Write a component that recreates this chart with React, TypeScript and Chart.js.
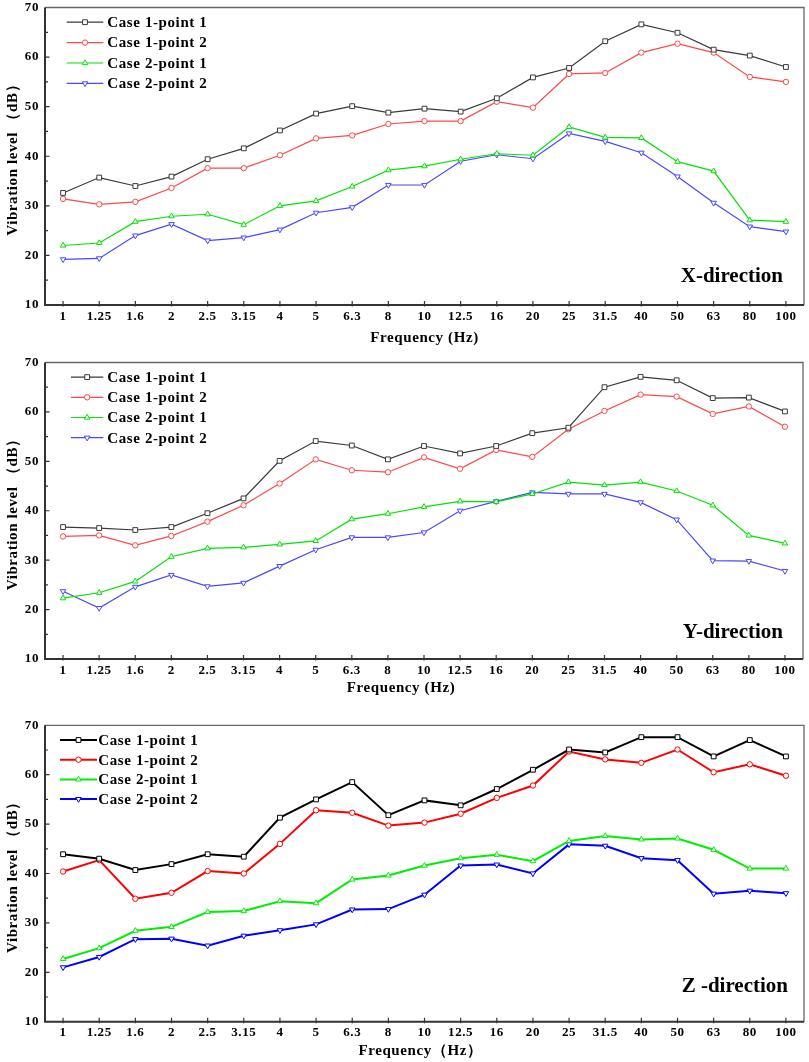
import React, { useEffect, useRef } from 'react';
import { Chart, registerables } from 'chart.js';

Chart.register(...registerables);

const FONT = '"Liberation Serif", "Times New Roman", Times, serif';

// ---------- data ----------
const frequencies = ['1', '1.25', '1.6', '2', '2.5', '3.15', '4', '5', '6.3', '8', '10', '12.5', '16', '20', '25', '31.5', '40', '50', '63', '80', '100'];
const seriesNames = ['Case 1-point 1', 'Case 1-point 2', 'Case 2-point 1', 'Case 2-point 2'];
const yTickValues = [10, 20, 30, 40, 50, 60, 70];

const xCase1P1 = [32.6, 35.7, 34.0, 35.9, 39.4, 41.6, 45.2, 48.6, 50.1, 48.8, 49.6, 49.0, 51.7, 55.9, 57.8, 63.2, 66.6, 64.9, 61.5, 60.3, 58.0];
const xCase1P2 = [31.4, 30.3, 30.8, 33.6, 37.6, 37.6, 40.2, 43.6, 44.2, 46.5, 47.1, 47.1, 51.0, 49.8, 56.6, 56.8, 60.9, 62.7, 60.9, 56.0, 55.0];
const xCase2P1 = [22.0, 22.5, 26.8, 27.9, 28.3, 26.2, 30.0, 31.0, 33.9, 37.2, 38.0, 39.4, 40.5, 40.2, 45.9, 43.8, 43.7, 38.9, 37.0, 27.1, 26.8];
const xCase2P2 = [19.2, 19.4, 24.0, 26.3, 23.0, 23.6, 25.2, 28.6, 29.7, 34.2, 34.2, 39.0, 40.3, 39.5, 44.6, 43.0, 40.7, 35.9, 30.6, 25.8, 24.8];

const yCase1P1 = [36.7, 36.5, 36.1, 36.7, 39.5, 42.5, 50.1, 54.1, 53.2, 50.4, 53.1, 51.6, 53.1, 55.7, 56.8, 65.0, 67.1, 66.4, 62.8, 62.9, 60.1];
const yCase1P2 = [34.8, 35.0, 33.0, 34.9, 37.8, 41.1, 45.5, 50.4, 48.2, 47.8, 50.8, 48.5, 52.3, 50.9, 56.5, 60.2, 63.5, 63.1, 59.6, 61.1, 57.0];
const yCase2P1 = [22.3, 23.4, 25.7, 30.7, 32.4, 32.6, 33.2, 33.9, 38.3, 39.4, 40.8, 41.9, 41.8, 43.4, 45.8, 45.2, 45.8, 44.0, 41.1, 35.0, 33.4];
const yCase2P2 = [23.7, 20.3, 24.6, 27.0, 24.7, 25.4, 28.8, 32.1, 34.6, 34.6, 35.6, 40.0, 41.9, 43.7, 43.4, 43.4, 41.7, 38.2, 29.9, 29.8, 27.8];

const zCase1P1 = [43.9, 43.0, 40.7, 41.9, 43.9, 43.4, 51.3, 55.0, 58.5, 51.8, 54.8, 53.8, 57.1, 61.0, 65.1, 64.5, 67.6, 67.6, 63.7, 67.0, 63.7];
const zCase1P2 = [40.4, 42.7, 34.9, 36.1, 40.5, 40.0, 46.0, 52.8, 52.3, 49.7, 50.3, 52.1, 55.3, 57.8, 64.7, 63.1, 62.4, 65.1, 60.5, 62.1, 59.8];
const zCase2P1 = [22.7, 24.9, 28.4, 29.2, 32.2, 32.4, 34.4, 34.0, 38.8, 39.6, 41.6, 43.1, 43.8, 42.5, 46.6, 47.6, 46.9, 47.1, 44.8, 41.0, 41.0];
const zCase2P2 = [21.0, 23.1, 26.7, 26.8, 25.4, 27.4, 28.5, 29.7, 32.7, 32.8, 35.7, 41.6, 41.8, 40.0, 45.9, 45.6, 43.1, 42.7, 35.9, 36.5, 36.0];

// ---------- styles ----------
const lightColors = ['#3a3a3a', '#ff4848', '#00e400', '#4848ff'];
const pureColors = ['#000000', '#ff0000', '#00ee00', '#0000ff'];
const pointStyles = ['rect', 'circle', 'triangle', 'triangle'];
const pointRotations = [0, 0, 0, 180];
const pointRadii = [3.4, 2.7, 3.2, 3.2];

type PanelCfg = {
  series: number[][];
  colors: string[];
  lineWidth: number;
  label: string;
  xTitle: string;
  top: number;
  height: number;
  padTop: number;
  padRight: number;
  axisHeight: number;
  tickPad: number;
  titlePadBottom: number;
  titleShift: number;
  legendFirst: number;
  legendStep: number;
  legendLine0: number;
  legendLine1: number;
  legendText: number;
  labelRight: number;
  labelUp: number;
};

const panels: PanelCfg[] = [
  {
    series: [xCase1P1, xCase1P2, xCase2P1, xCase2P2], colors: lightColors, lineWidth: 1.2,
    label: 'X-direction', xTitle: 'Frequency (Hz)',
    top: -5, height: 357, padTop: 0, padRight: 3, axisHeight: 47, tickPad: 4, titlePadBottom: 4.6, titleShift: 0,
    legendFirst: 14.7, legendStep: 20.4, legendLine0: 21.7, legendLine1: 58.3, legendText: 62.3,
    labelRight: 783, labelUp: 28,
  },
  {
    series: [yCase1P1, yCase1P2, yCase2P1, yCase2P2], colors: lightColors, lineWidth: 1.2,
    label: 'Y-direction', xTitle: 'Frequency (Hz)',
    top: 350, height: 356, padTop: 0, padRight: 6, axisHeight: 47, tickPad: 3.5, titlePadBottom: 8.6, titleShift: -23,
    legendFirst: 14.6, legendStep: 20.2, legendLine0: 26, legendLine1: 58.3, legendText: 62.3,
    labelRight: 783, labelUp: 26.3,
  },
  {
    series: [zCase1P1, zCase1P2, zCase2P1, zCase2P2], colors: pureColors, lineWidth: 2,
    label: 'Z -direction', xTitle: 'Frequency（Hz）',
    top: 708, height: 354, padTop: 17.3, padRight: 3, axisHeight: 40.3, tickPad: 3.5, titlePadBottom: 1.6, titleShift: -4,
    legendFirst: 14.7, legendStep: 19.7, legendLine0: 15, legendLine1: 52, legendText: 53.3,
    labelRight: 788, labelUp: 35,
  },
];

function drawMarker(ctx: CanvasRenderingContext2D, style: string, x: number, y: number, r: number, rotation: number) {
  ctx.beginPath();
  if (style === 'rect') {
    const s = r * Math.SQRT1_2;
    ctx.rect(x - s, y - s, 2 * s, 2 * s);
  } else if (style === 'circle') {
    ctx.arc(x, y, r, 0, Math.PI * 2);
  } else {
    const rad0 = (rotation * Math.PI) / 180;
    for (let k = 0; k < 3; k++) {
      const a = rad0 + (k * 2 * Math.PI) / 3;
      const px = x + Math.sin(a) * r;
      const py = y - Math.cos(a) * r;
      if (k === 0) ctx.moveTo(px, py);
      else ctx.lineTo(px, py);
    }
    ctx.closePath();
  }
  ctx.fill();
  ctx.stroke();
}

const framePlugin = {
  id: 'frame',
  beforeUpdate(chart: any) {
    chart.ctx.letterSpacing = '0.6px';
  },
  afterLayout(chart: any, _args: any, opts: any) {
    const xs = chart.scales.x;
    const shift = opts.cfg.titleShift;
    if (xs && !xs.__shiftWrapped) {
      const orig = xs.drawTitle;
      xs.drawTitle = function (...a: any[]) {
        this.ctx.save();
        this.ctx.translate(shift, 0);
        orig.apply(this, a);
        this.ctx.restore();
      };
      xs.__shiftWrapped = true;
    }
  },
  beforeDraw(chart: any) {
    chart.ctx.letterSpacing = '0.6px';
  },
  afterDraw(chart: any, _args: any, opts: any) {
    const { ctx, chartArea: a, scales } = chart;
    const cfg: PanelCfg = opts.cfg;
    ctx.save();
    ctx.letterSpacing = '0.6px';
    // frame: top and right
    ctx.strokeStyle = '#666';
    ctx.lineWidth = 1.3;
    ctx.beginPath();
    ctx.moveTo(a.left, a.top);
    ctx.lineTo(a.right, a.top);
    ctx.lineTo(a.right, a.bottom);
    ctx.stroke();
    // frame: left and bottom
    ctx.strokeStyle = '#333';
    ctx.lineWidth = 2;
    ctx.beginPath();
    ctx.moveTo(a.left, a.top);
    ctx.lineTo(a.left, a.bottom);
    ctx.lineTo(a.right, a.bottom);
    ctx.stroke();
    // y ticks (inward, major + minor)
    const ys = scales.y;
    ctx.lineWidth = 1.2;
    ctx.beginPath();
    for (let v = ys.min + 5; v < ys.max; v += 5) {
      const py = ys.getPixelForValue(v);
      const len = v % 10 === 0 ? 4.5 : 3;
      ctx.moveTo(a.left, py);
      ctx.lineTo(a.left + len, py);
    }
    // x ticks (crossing)
    const xs = scales.x;
    for (let i = 0; i < xs.ticks.length; i++) {
      const px = xs.getPixelForTick(i);
      ctx.moveTo(px, a.bottom - 4);
      ctx.lineTo(px, a.bottom + 1.5);
    }
    ctx.stroke();

    // legend
    const datasets = chart.data.datasets;
    ctx.font = `bold 15px ${FONT}`;
    ctx.textBaseline = 'middle';
    ctx.textAlign = 'left';
    datasets.forEach((ds: any, i: number) => {
      const y = a.top + cfg.legendFirst + i * cfg.legendStep;
      ctx.strokeStyle = ds.borderColor;
      ctx.lineWidth = ds.borderWidth;
      ctx.beginPath();
      ctx.moveTo(a.left + cfg.legendLine0, y);
      ctx.lineTo(a.left + cfg.legendLine1, y);
      ctx.stroke();
      ctx.fillStyle = '#fff';
      ctx.lineWidth = 1;
      drawMarker(ctx, ds.pointStyle, a.left + (cfg.legendLine0 + cfg.legendLine1) / 2, y, ds.pointRadius, ds.pointRotation);
      ctx.fillStyle = '#000';
      ctx.fillText(ds.label, a.left + cfg.legendText, y + 1);
    });

    // direction label
    ctx.font = `bold 21px ${FONT}`;
    ctx.textAlign = 'right';
    ctx.fillStyle = '#000';
    ctx.letterSpacing = '0px';
    ctx.fillText(cfg.label, cfg.labelRight, a.bottom - cfg.labelUp);
    ctx.restore();
  },
};

function Panel({ cfg }: { cfg: PanelCfg }) {
  const ref = useRef<HTMLCanvasElement | null>(null);
  useEffect(() => {
    if (!ref.current) return;
    const datasets = cfg.series.map((data, i) => ({
      label: seriesNames[i],
      data,
      borderColor: cfg.colors[i],
      backgroundColor: cfg.colors[i],
      borderWidth: cfg.lineWidth,
      pointStyle: pointStyles[i],
      pointRotation: pointRotations[i],
      pointRadius: pointRadii[i],
      pointBorderColor: cfg.colors[i],
      pointBackgroundColor: '#ffffff',
      pointBorderWidth: 1,
      tension: 0,
      fill: false,
    }));
    const chart = new Chart(ref.current, {
      type: 'line',
      data: { labels: frequencies, datasets },
      options: {
        responsive: false,
        animation: false,
        devicePixelRatio: 1,
        layout: { padding: { top: cfg.padTop, right: cfg.padRight, left: 0, bottom: 0 } },
        plugins: {
          legend: { display: false },
          tooltip: { enabled: false },
          frame: { cfg },
        } as any,
        scales: {
          x: {
            type: 'category',
            offset: true,
            grid: { display: false, drawTicks: false },
            border: { display: false },
            ticks: {
              color: '#000',
              font: { family: FONT, size: 13, weight: 'bold' },
              padding: cfg.tickPad,
              maxRotation: 0,
              autoSkip: false,
            },
            title: {
              display: true,
              text: cfg.xTitle,
              color: '#000',
              font: { family: FONT, size: 15, weight: 'bold' },
              padding: { top: 0, bottom: cfg.titlePadBottom },
            },
            afterFit: (s: any) => { s.height = cfg.axisHeight; },
          },
          y: {
            type: 'linear',
            min: yTickValues[0],
            max: yTickValues[yTickValues.length - 1],
            grid: { display: false, drawTicks: false },
            border: { display: false },
            afterBuildTicks: (s: any) => { s.ticks = yTickValues.map((v) => ({ value: v })); },
            ticks: {
              color: '#000',
              font: { family: FONT, size: 13, weight: 'bold', lineHeight: 1 },
              padding: 6,
            },
            title: {
              display: true,
              text: 'Vibration level （dB）',
              color: '#000',
              font: { family: FONT, size: 15, weight: 'bold' },
              padding: { top: 4, bottom: 0 },
            },
            afterFit: (s: any) => { s.width = 45; },
          },
        },
      } as any,
      plugins: [framePlugin as any],
    });
    return () => chart.destroy();
  }, [cfg]);
  return (
    <canvas
      ref={ref}
      width={809}
      height={cfg.height}
      style={{ position: 'absolute', left: 0, top: cfg.top, width: 809, height: cfg.height, display: 'block' }}
    />
  );
}

export default function App() {
  return (
    <div style={{ position: 'absolute', left: 0, top: 0, width: 809, height: 1062, background: '#fff', overflow: 'hidden' }}>
      {panels.map((p, i) => (
        <Panel key={i} cfg={p} />
      ))}
    </div>
  );
}
